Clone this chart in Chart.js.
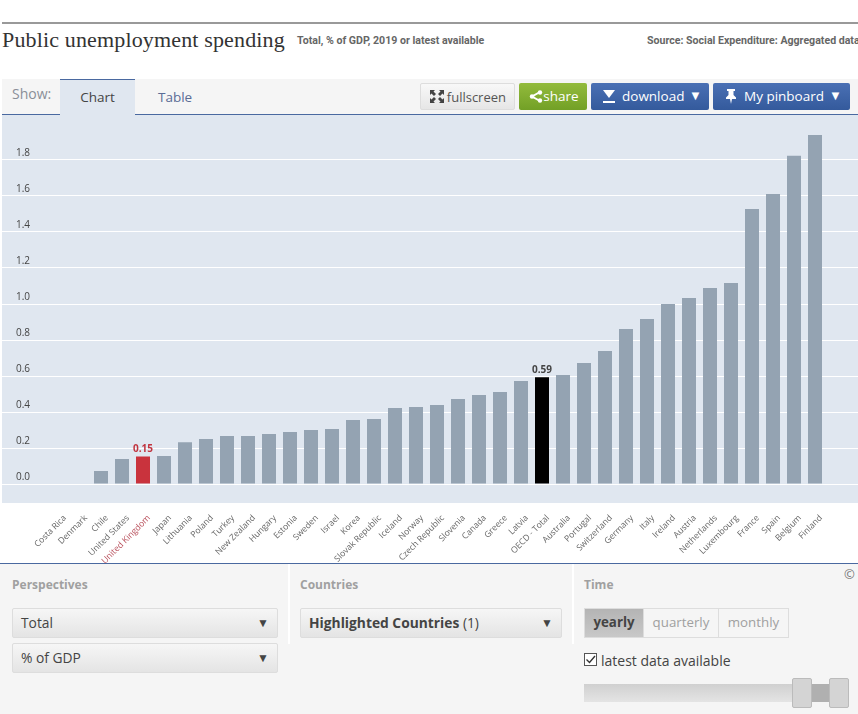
<!DOCTYPE html>
<html>
<head>
<meta charset="utf-8">
<title>Public unemployment spending</title>
<script src="https://cdn.jsdelivr.net/npm/chart.js@4"></script>
<style>
  html, body { margin: 0; padding: 0; background: #fff; }
  body { position: relative; width: 858px; height: 714px; overflow: hidden; font-family: "Open Sans", sans-serif; color: #444; }
  .abs { position: absolute; white-space: nowrap; }
  .btn { position: absolute; top: 83px; height: 27px; line-height: 26px; box-sizing: border-box; border-radius: 2px; font-size: 13.500px; text-align: center; color: #fff; }
  .blue { background: linear-gradient(#4a70b4, #345a9c); }
  .select { position: absolute; height: 30px; line-height: 27px; box-sizing: border-box; border: 1px solid #ddd; border-radius: 2px; background: linear-gradient(#f6f6f6, #e4e4e4); font-size: 13.800px; padding-left: 8px; color: #444; }
  .select .arrow { position: absolute; right: 8px; top: 0; font-size: 12px; color: #444; }
  .heading { position: absolute; top: 576px; font-size: 12px; font-weight: bold; color: #a0a0a0; }
  .seg { position: absolute; top: 608px; height: 30px; line-height: 27px; box-sizing: border-box; border: 1px solid #ddd; text-align: center; font-size: 13.300px; color: #a0a0a0; }
  #chartBox { position: absolute; left: 0; top: 115px; width: 858px; height: 448px; }
</style>
</head>
<body>
  <div class="abs" style="left:2px;top:22px;width:856px;height:2px;background:#999"></div>
  <div class="abs" style="left:2px;top:27px;font-family:'Liberation Serif',serif;font-size:22px;letter-spacing:0.15px;color:#333">Public unemployment spending</div>
  <div class="abs" style="left:297px;top:34px;font-family:Roboto,sans-serif;font-weight:bold;font-size:10.600px;color:#666">Total, % of GDP, 2019 or latest available</div>
  <div class="abs" style="left:647px;top:34px;font-family:Roboto,sans-serif;font-weight:bold;font-size:10.600px;color:#666">Source: Social Expenditure: Aggregated data</div>

  <div class="abs" style="left:2px;top:79px;width:856px;height:36px;background:#f5f5f5;border-bottom:1px solid #4a69a0;box-sizing:border-box"></div>
  <div class="abs" style="left:12px;top:84px;font-size:14px;color:#8a8f98">Show:</div>
  <div class="abs" style="left:60px;top:79px;width:75px;height:36px;background:#e0e7f0;border-top:1px solid #4a69a0;box-sizing:border-box;text-align:center;line-height:34px;font-size:13.500px;color:#444">Chart</div>
  <div class="abs" style="left:158px;top:88px;font-size:13.500px;color:#5a6c96">Table</div>

  <div class="btn" style="left:420px;width:95px;background:linear-gradient(#f8f8f8,#e6e6e6);border:1px solid #ddd;color:#555;text-align:right;padding-right:8px;font-size:13px">fullscreen</div>
  <svg class="abs" style="left:429px;top:89px" width="16" height="15" viewBox="0 0 16 15"><path d="M1 1h5L4.500 2.500 7 5 5 7 2.500 4.500 1 6zM15 1v5l-1.500-1.500L11 7 9 5l2.500-2.500L10 1zM1 14V9l1.500 1.500L5 8l2 2-2.500 2.500L6 14zM15 14h-5l1.500-1.500L9 10l2-2 2.500 2.500L15 9z" fill="#444"/></svg>
  <div class="btn" style="left:519px;width:68px;background:linear-gradient(#93bb3c,#72a026);padding-left:16px;box-sizing:border-box">share</div>
  <svg class="abs" style="left:529px;top:90px" width="14" height="13" viewBox="0 0 14 13"><path d="M11 2 3 6.500 11 11" stroke="#fff" stroke-width="2" fill="none"/><circle cx="11" cy="2.500" r="2.200" fill="#fff"/><circle cx="3" cy="6.500" r="2.200" fill="#fff"/><circle cx="11" cy="10.500" r="2.200" fill="#fff"/></svg>
  <div class="btn blue" style="left:591px;width:118px;padding-left:31px;box-sizing:border-box;text-align:left">download</div>
  <div class="abs" style="left:689px;top:86px;font-size:13px;color:#fff">▼</div>
  <svg class="abs" style="left:602px;top:89px" width="14" height="15" viewBox="0 0 14 15"><path d="M1 1h12L7 9zM1 12h12v2H1z" fill="#fff"/></svg>
  <div class="btn blue" style="left:713px;width:137px;padding-left:31px;box-sizing:border-box;text-align:left">My pinboard</div>
  <div class="abs" style="left:829px;top:86px;font-size:13px;color:#fff">▼</div>
  <svg class="abs" style="left:725px;top:88px" width="12" height="16" viewBox="0 0 12 16"><path d="M2 1h8v2H8.500v4L11 9.500V11H7l-1 5-1-5H1V9.500L3.500 7V3H2z" fill="#fff"/></svg>

  <div id="chartBox"><canvas id="chart"></canvas></div>

  <div class="abs" style="left:0;top:563px;width:858px;height:151px;background:#f5f5f5;border-top:1px solid #4a69a0;box-sizing:border-box"></div>
  <div class="abs" style="left:288px;top:564px;width:2px;height:80px;background:#fff"></div>
  <div class="abs" style="left:572px;top:564px;width:2px;height:80px;background:#fff"></div>
  <div class="abs" style="left:844px;top:565px;font-size:13px;color:#777">©</div>

  <div class="heading" style="left:12px">Perspectives</div>
  <div class="select" style="left:12px;top:608px;width:266px">Total<span class="arrow">▼</span></div>
  <div class="select" style="left:12px;top:643px;width:266px">% of GDP<span class="arrow">▼</span></div>

  <div class="heading" style="left:300px">Countries</div>
  <div class="select" style="left:300px;top:608px;width:262px"><b>Highlighted Countries</b> (1)<span class="arrow">▼</span></div>

  <div class="heading" style="left:584px">Time</div>
  <div class="seg" style="left:584px;width:60px;background:linear-gradient(#b4b4b4,#c8c8c8);font-weight:bold;color:#444">yearly</div>
  <div class="seg" style="left:643px;width:76px">quarterly</div>
  <div class="seg" style="left:718px;width:71px">monthly</div>
  <div class="abs" style="left:584px;top:653px;width:13px;height:13px;border:1px solid #555;background:#fff;box-sizing:border-box"></div>
  <svg class="abs" style="left:584px;top:653px" width="13" height="13" viewBox="0 0 13 13"><path d="M2.500 6.500 5.500 9.500 11 3" stroke="#333" stroke-width="1.400" fill="none"/></svg>
  <div class="abs" style="left:601px;top:651px;font-size:14px;color:#444">latest data available</div>
  <div class="abs" style="left:584px;top:684px;width:228px;height:18px;background:linear-gradient(#d0d0d0,#e4e4e4)"></div>
  <div class="abs" style="left:802px;top:684px;width:38px;height:18px;background:#b0b0b0"></div>
  <div class="abs" style="left:792px;top:678px;width:20px;height:30px;background:#d4d4d4;border:1px solid #bbb;border-radius:2px;box-sizing:border-box"></div>
  <div class="abs" style="left:829px;top:678px;width:20px;height:30px;background:#d4d4d4;border:1px solid #bbb;border-radius:2px;box-sizing:border-box"></div>

<script>
const countries = ["Costa Rica", "Denmark", "Chile", "United States", "United Kingdom", "Japan", "Lithuania", "Poland", "Turkey", "New Zealand", "Hungary", "Estonia", "Sweden", "Israel", "Korea", "Slovak Republic", "Iceland", "Norway", "Czech Republic", "Slovenia", "Canada", "Greece", "Latvia", "OECD - Total", "Australia", "Portugal", "Switzerland", "Germany", "Italy", "Ireland", "Austria", "Netherlands", "Luxembourg", "France", "Spain", "Belgium", "Finland"];
const spending = [null, null, 0.07, 0.136, 0.15, 0.153, 0.23, 0.247, 0.264, 0.264, 0.275, 0.286, 0.297, 0.303, 0.353, 0.358, 0.42, 0.425, 0.436, 0.47, 0.492, 0.508, 0.569, 0.59, 0.603, 0.67, 0.736, 0.858, 0.914, 0.997, 1.03, 1.086, 1.114, 1.525, 1.608, 1.82, 1.936];
const yTicks = [0, 0.2, 0.4, 0.6, 0.8, 1.0, 1.2, 1.4, 1.6, 1.8];
const highlighted = { "United Kingdom": "#c9333d", "OECD - Total": "#000000" };
const labelColors = { "United Kingdom": "#c1343f", "OECD - Total": "#444444" };

// the grey panel and its grid run the full page width, past the chart area
const panelPlugin = {
    id: "panel",
    beforeDraw(chart) {
        const { ctx, chartArea, scales } = chart;
        ctx.save();
        ctx.fillStyle = "#e0e7f0";
        ctx.fillRect(2, 0, chart.width - 2, chartArea.bottom);
        ctx.strokeStyle = "#ffffff";
        ctx.lineWidth = 1;
        for (const tick of scales.y.ticks) {
            const y = Math.round(scales.y.getPixelForValue(tick.value)) + 0.5;
            ctx.beginPath();
            ctx.moveTo(2, y);
            ctx.lineTo(chart.width, y);
            ctx.stroke();
        }
        ctx.restore();
    }
};

const valueLabelPlugin = {
    id: "valueLabels",
    afterDatasetsDraw(chart) {
        const { ctx } = chart;
        const bars = chart.getDatasetMeta(0).data;
        ctx.save();
        ctx.font = "bold 10px 'Open Sans'";
        ctx.textAlign = "center";
        ctx.textBaseline = "bottom";
        countries.forEach((name, i) => {
            if (!labelColors[name]) return;
            ctx.fillStyle = labelColors[name];
            ctx.fillText(spending[i].toFixed(2), bars[i].x, bars[i].y - 2);
        });
        ctx.restore();
    }
};

new Chart(document.getElementById("chart"), {
    type: "bar",
    data: {
        labels: countries,
        datasets: [{
            data: spending,
            backgroundColor: countries.map(name => highlighted[name] || "#94a3b2"),
            barPercentage: 14 / 21,
            categoryPercentage: 1
        }]
    },
    plugins: [panelPlugin, valueLabelPlugin],
    options: {
        responsive: true,
        maintainAspectRatio: false,
        animation: false,
        layout: { padding: { left: 16, right: 32.5, top: 0, bottom: 0 } },
        plugins: { legend: { display: false }, tooltip: { enabled: false } },
        scales: {
            x: {
                grid: { display: false },
                border: { display: false },
                afterFit: scale => {
                    scale.height = 60;
                    scale.paddingLeft = 0;
                    scale.paddingRight = 0;
                },
                ticks: {
                    autoSkip: false,
                    minRotation: 45,
                    maxRotation: 45,
                    padding: 2,
                    labelOffset: 6,
                    font: { family: "'Open Sans'", size: 8.6 },
                    color: ctx => ctx.index === countries.indexOf("United Kingdom") ? "#b9505c" : "#666666"
                }
            },
            y: {
                min: -0.108,
                max: 2.047,
                grid: { display: false },
                border: { display: false },
                afterFit: scale => {
                    scale.width = 32.5;
                    scale.paddingTop = 0;
                    scale.paddingBottom = 0;
                },
                afterBuildTicks: scale => { scale.ticks = yTicks.map(value => ({ value })); },
                ticks: {
                    crossAlign: "far",
                    labelOffset: -6,
                    padding: 0,
                    font: { family: "'Open Sans'", size: 10 },
                    color: "#444444",
                    callback: value => value.toFixed(1)
                }
            }
        }
    }
});
</script>
</body>
</html>
